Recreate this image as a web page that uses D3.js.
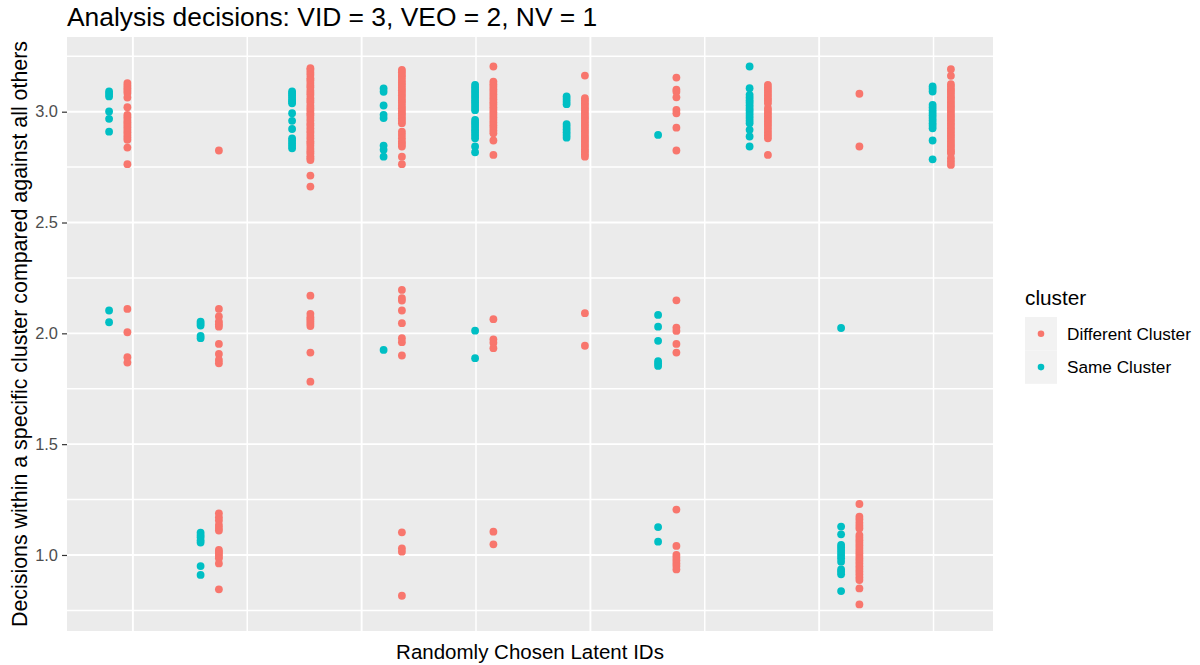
<!DOCTYPE html>
<html>
<head>
<meta charset="utf-8">
<script src="https://cdn.jsdelivr.net/npm/d3@7"></script>
<style>
  body { margin: 0; background: #fff; }
  text { font-family: "Liberation Sans", Arial, sans-serif; }
</style>
</head>
<body>
<div class="chart"></div>
<script>
// latent IDs (x axis has no tick labels in the original)
var latentIds = ["1", "2", "3", "4", "5", "6", "7", "8", "9", "10"];
var clusterNames = ["Different Cluster", "Same Cluster"];
var clusterColors = ["#F8766D", "#00BFC4"];

// decisions per latent ID, "Different Cluster"
var diffValues = [
    [3.129, 3.117, 3.106, 3.095, 3.084, 3.064, 3.020, 2.986, 2.975, 2.963, 2.952, 2.941, 2.930, 2.918, 2.907, 2.895, 2.884, 2.873, 2.838, 2.763,
     2.110, 2.005, 1.892, 1.868],
    [2.825,
     2.110, 2.076, 2.053, 2.041, 2.030, 1.952, 1.907, 1.880, 1.865,
     1.188, 1.170, 1.155, 1.135, 1.122, 1.110, 1.023, 1.014, 1.005, 0.995, 0.985, 0.962, 0.845],
    [3.196, 3.188, 3.176, 3.165, 3.151, 3.142, 3.130, 3.118, 3.109, 3.095, 3.084, 3.075, 3.061, 3.050, 3.041, 3.027, 3.016, 3.005, 2.993,
     2.984, 2.971, 2.960, 2.947, 2.938, 2.925, 2.913, 2.904, 2.891, 2.880, 2.867, 2.858, 2.846, 2.833, 2.822, 2.812, 2.799, 2.790, 2.782,
     2.712, 2.662,
     2.170, 2.088, 2.073, 2.063, 2.053, 2.043, 2.033, 1.913, 1.782],
    [3.189, 3.178, 3.165, 3.156, 3.143, 3.131, 3.120, 3.108, 3.097, 3.085, 3.074, 3.062, 3.050, 3.040, 3.027, 3.016, 3.004, 2.993, 2.982,
     2.970, 2.959, 2.948, 2.910, 2.895, 2.880, 2.865, 2.855, 2.843, 2.797, 2.763,
     2.196, 2.159, 2.148, 2.103, 2.046, 1.978, 1.960, 1.900,
     1.102, 1.030, 1.015, 0.816],
    [3.204, 3.136, 3.124, 3.113, 3.101, 3.090, 3.078, 3.066, 3.055, 3.043, 3.032, 3.020, 3.009, 2.997, 2.986, 2.974, 2.962, 2.951, 2.939,
     2.927, 2.915, 2.903, 2.870, 2.805,
     2.064, 1.973, 1.958, 1.933,
     1.105, 1.048],
    [3.163, 3.061, 3.050, 3.038, 3.027, 3.015, 3.004, 2.993, 2.981, 2.970, 2.958, 2.946, 2.935, 2.923, 2.912, 2.900, 2.888, 2.877, 2.866,
     2.854, 2.843, 2.831, 2.820, 2.808, 2.797,
     2.091, 1.944],
    [3.154, 3.100, 3.090, 3.065, 3.008, 2.993, 2.928, 2.825,
     2.149, 2.026, 2.011, 1.952, 1.913,
     1.205, 1.041, 1.000, 0.988, 0.975, 0.962, 0.950, 0.935],
    [3.121, 3.109, 3.097, 3.085, 3.073, 3.061, 3.050, 3.038, 3.016, 3.004, 2.992, 2.980, 2.968, 2.956, 2.944, 2.932, 2.919, 2.906, 2.893,
     2.880, 2.805],
    [3.081, 2.843,
     1.230, 1.173, 1.160, 1.145, 1.132, 1.120, 1.090, 1.078, 1.066, 1.055, 1.043, 1.031, 1.019, 1.008, 0.996, 0.984, 0.973, 0.961, 0.949,
     0.937, 0.925, 0.913, 0.900, 0.887, 0.849, 0.777],
    [3.192, 3.162, 3.124, 3.112, 3.100, 3.089, 3.077, 3.065, 3.054, 3.042, 3.030, 3.019, 3.007, 2.995, 2.983, 2.972, 2.960, 2.948, 2.937,
     2.925, 2.913, 2.901, 2.890, 2.878, 2.866, 2.854, 2.843, 2.831, 2.820, 2.813, 2.790, 2.775, 2.760]
];

// decisions per latent ID, "Same Cluster"
var sameValues = [
    [3.091, 3.080, 3.069, 3.001, 2.968, 2.910,
     2.103, 2.050],
    [2.053, 2.044, 2.035, 1.988, 1.978,
     1.101, 1.090, 1.080, 1.066, 1.056, 0.950, 0.910],
    [3.091, 3.082, 3.073, 3.063, 3.053, 3.045, 3.038, 2.993, 2.959, 2.922, 2.880, 2.869, 2.858, 2.846, 2.835],
    [3.105, 3.090, 3.028, 2.986, 2.971, 2.847, 2.828, 2.797,
     1.925],
    [3.121, 3.110, 3.098, 3.087, 3.075, 3.064, 3.052, 3.041, 3.030, 3.018, 3.007, 2.963, 2.951, 2.940, 2.928, 2.916, 2.905, 2.893, 2.880,
     2.843, 2.817,
     2.012, 1.888],
    [3.069, 3.057, 3.045, 3.034, 2.944, 2.932, 2.920, 2.907, 2.895, 2.883],
    [2.895,
     2.083, 2.030, 1.966, 1.875, 1.864, 1.853,
     1.126, 1.060],
    [3.204, 3.106, 3.076, 3.064, 3.052, 3.041, 3.029, 3.017, 3.006, 2.994, 2.982, 2.971, 2.959, 2.948, 2.918, 2.888, 2.843],
    [2.024,
     1.128, 1.093, 1.045, 1.034, 1.022, 1.010, 0.998, 0.985, 0.970, 0.935, 0.924, 0.913, 0.837],
    [3.114, 3.103, 3.091, 3.031, 3.019, 3.007, 2.995, 2.984, 2.972, 2.960, 2.948, 2.937, 2.925, 2.870, 2.785]
];

var yTicks = [1.0, 1.5, 2.0, 2.5, 3.0];
var yMinorTicks = [0.75, 1.25, 1.75, 2.25, 2.75, 3.25];
var xGridMajor = [0.16, 2.66, 5.16, 7.66];
var xGridMinor = [1.41, 3.91, 6.41, 8.91];

var width = 1200, height = 665;
var panel = { left: 67, right: 993, top: 37, bottom: 631 };

var svg = d3.select(".chart")
    .append("svg")
    .attr("width", width)
    .attr("height", height);

svg.append("rect")
    .attr("width", width)
    .attr("height", height)
    .attr("fill", "#fff");

// dodge offset between the two clusters inside one latent ID
var dodge = 0.1;

var xScale = d3.scaleLinear()
    .domain([-0.56, latentIds.length - 1 + 0.56])
    .range([panel.left, panel.right]);

var yScale = d3.scaleLinear()
    .domain([0.657, 3.337])
    .range([panel.bottom, panel.top]);

svg.append("rect")
    .attr("x", panel.left)
    .attr("y", panel.top)
    .attr("width", panel.right - panel.left)
    .attr("height", panel.bottom - panel.top)
    .attr("fill", "#EBEBEB");

var grid = svg.append("g").attr("stroke", "#fff");

grid.selectAll(".hminor")
    .data(yMinorTicks)
    .enter().append("line")
    .attr("x1", panel.left).attr("x2", panel.right)
    .attr("y1", function(d) { return yScale(d); })
    .attr("y2", function(d) { return yScale(d); })
    .attr("stroke-width", 1.5);

grid.selectAll(".vminor")
    .data(xGridMinor)
    .enter().append("line")
    .attr("y1", panel.top).attr("y2", panel.bottom)
    .attr("x1", function(d) { return xScale(d); })
    .attr("x2", function(d) { return xScale(d); })
    .attr("stroke-width", 1.5);

grid.selectAll(".hmajor")
    .data(yTicks)
    .enter().append("line")
    .attr("x1", panel.left).attr("x2", panel.right)
    .attr("y1", function(d) { return yScale(d); })
    .attr("y2", function(d) { return yScale(d); })
    .attr("stroke-width", 1.9);

grid.selectAll(".vmajor")
    .data(xGridMajor)
    .enter().append("line")
    .attr("y1", panel.top).attr("y2", panel.bottom)
    .attr("x1", function(d) { return xScale(d); })
    .attr("x2", function(d) { return xScale(d); })
    .attr("stroke-width", 1.9);

// y axis
var yAxis = svg.append("g")
    .attr("transform", `translate(${panel.left},0)`)
    .call(d3.axisLeft(yScale).tickValues(yTicks).tickFormat(d3.format(".1f")).tickSize(5).tickPadding(4));
yAxis.select(".domain").remove();
yAxis.selectAll(".tick line").attr("stroke", "#333333").attr("stroke-width", 1.2);
yAxis.selectAll(".tick text")
    .attr("fill", "#4D4D4D")
    .style("font-size", "16.4px")
    .style("font-family", "'Liberation Sans', Arial, sans-serif");

// points
var points = [];
latentIds.forEach(function(id, i) {
    diffValues[i].forEach(function(v) { points.push({ id: i, cluster: 0, value: v }); });
    sameValues[i].forEach(function(v) { points.push({ id: i, cluster: 1, value: v }); });
});

svg.append("g")
    .selectAll("circle")
    .data(points)
    .enter()
    .append("circle")
    .attr("cx", function(d) { return xScale(d.id + (d.cluster === 0 ? dodge : -dodge)); })
    .attr("cy", function(d) { return yScale(d.value); })
    .attr("r", 3.9)
    .attr("fill", function(d) { return clusterColors[d.cluster]; });

// titles
svg.append("text")
    .attr("x", panel.left)
    .attr("y", 26)
    .text("Analysis decisions: VID = 3, VEO = 2, NV = 1")
    .style("font-size", "26.4px")
    .attr("fill", "#000");

svg.append("text")
    .attr("text-anchor", "middle")
    .attr("x", (panel.left + panel.right) / 2)
    .attr("y", 659)
    .text("Randomly Chosen Latent IDs")
    .style("font-size", "20.5px")
    .attr("fill", "#000");

svg.append("text")
    .attr("text-anchor", "middle")
    .attr("transform", `translate(27,${(panel.top + panel.bottom) / 2}) rotate(-90)`)
    .text("Decisions within a specific cluster compared against all others")
    .style("font-size", "21.4px")
    .attr("fill", "#000");

// legend
var legend = svg.append("g").attr("transform", "translate(1025,305)");

legend.append("text")
    .attr("x", 0)
    .attr("y", 0)
    .text("cluster")
    .style("font-size", "20.8px");

var keys = legend.selectAll(".key")
    .data(clusterNames)
    .enter()
    .append("g")
    .attr("transform", function(d, i) { return `translate(0,${12 + i * 33.4})`; });

keys.append("rect")
    .attr("width", 32)
    .attr("height", 33.4)
    .attr("fill", "#F2F2F2");

keys.append("circle")
    .attr("cx", 16)
    .attr("cy", 16.7)
    .attr("r", 3.3)
    .attr("fill", function(d, i) { return clusterColors[i]; });

keys.append("text")
    .attr("x", 42)
    .attr("y", 22.8)
    .text(function(d) { return d; })
    .style("font-size", "17.2px")
    .attr("fill", "#000");
</script>
</body>
</html>
